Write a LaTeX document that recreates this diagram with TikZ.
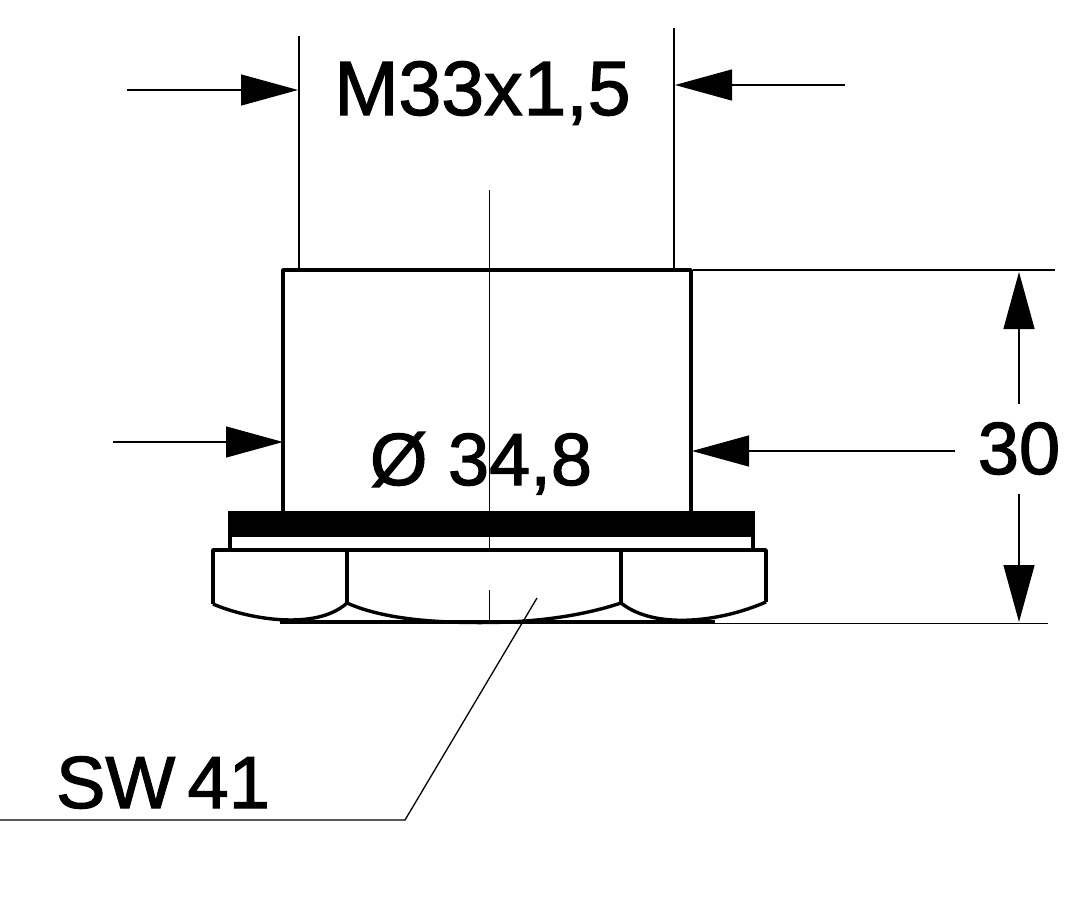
\documentclass[tikz,border=0pt]{standalone}
\usepackage{fontspec}
\setmainfont{Liberation Sans}[FakeBold=1.6]
\usetikzlibrary{arrows.meta}
\tikzset{
  thinl/.style={line width=1.3pt,black},
  thick outline/.style={line width=3.4pt,black,line join=round},
  dimarrow/.style={thinl,-{Triangle[length=57pt,width=31pt]}},
  dimtext/.style={inner sep=0pt,anchor=base,font=\fontsize{74}{80}\selectfont}
}
\begin{document}
\begin{tikzpicture}[x=1pt,y=-1pt]
\useasboundingbox (0,0) rectangle (1077,918);
% key points
\coordinate (extL) at (299,36);
\coordinate (extLb) at (299,270);
\coordinate (extR) at (674,28);
\coordinate (extRb) at (674,270);
\coordinate (extT) at (693,270);
\coordinate (extTe) at (1055,270);
\coordinate (extBs) at (715,623.5);
\coordinate (extBe) at (1048,623.5);
\coordinate (ctrA) at (489.5,190);
\coordinate (ctrB) at (489.5,550);
\coordinate (ctrC) at (489.5,590);
\coordinate (ctrD) at (489.5,622);
% body
\draw[thick outline] (283,511) -- (283,270) -- (691,270) -- (691,511);
% extension and centre lines
\draw[thinl] (extL) -- (extLb);
\draw[thinl] (extR) -- (extRb);
\draw[thinl] (extT) -- (extTe);
\draw[thinl] (extBs) -- (extBe);
\draw[thinl] (ctrA) -- (ctrB);
\draw[thinl] (ctrC) -- (ctrD);
% seal band
\fill[black] (228,511) rectangle (755,537);
\draw[thick outline,line width=4pt] (230,537) -- (230,550);
\draw[thick outline,line width=4pt] (753,537) -- (753,550);
% nut
\draw[thick outline] (213,604) -- (213,550) -- (766,550) -- (766,602);
\draw[thick outline] (347,550) -- (347,603);
\draw[thick outline] (621,550) -- (621,603);
\draw[thick outline] (213,604) .. controls (245,618) and (315,632) .. (347,603);
\draw[thick outline] (347,603) .. controls (385,620) and (440,623) .. (489,622.5)
  .. controls (540,622) and (585,615) .. (621,603);
\draw[thick outline] (621,603) .. controls (655,630) and (720,622) .. (766,602);
\draw[thick outline] (280,622) -- (715,622);
% texts
\node[dimtext,font=\fontsize{77}{80}\selectfont] (tM) at (482.5,115) {M33x\kern1pt 1,5};
\node[dimtext] (tD) at (481,485) {Ø 34,8};
\node[dimtext] (t30) at (1019,474) {30};
\node[dimtext] (tSW) at (163,808) {SW\,41};
% dimension arrows
\coordinate (a1s) at (127,90);   \coordinate (a1e) at (298,90);
\coordinate (a2s) at (845,85);   \coordinate (a2e) at (675,85);
\coordinate (a3s) at (113,442);  \coordinate (a3e) at (283,442);
\coordinate (a4s) at (955,451);  \coordinate (a4e) at (692,451);
\coordinate (a5s) at (1019,404); \coordinate (a5e) at (1019,272);
\coordinate (a6s) at (1019,494); \coordinate (a6e) at (1019,622);
\draw[dimarrow] (a1s) -- (a1e);
\draw[dimarrow] (a2s) -- (a2e);
\draw[dimarrow] (a3s) -- (a3e);
\draw[dimarrow] (a4s) -- (a4e);
\draw[dimarrow] (a5s) -- (a5e);
\draw[dimarrow] (a6s) -- (a6e);
% leader
\coordinate (l1) at (537,598);
\coordinate (l2) at (405,820);
\coordinate (l3) at (0,820);
\draw[thinl] (l1) -- (l2) -- (l3);
\end{tikzpicture}
\end{document}
